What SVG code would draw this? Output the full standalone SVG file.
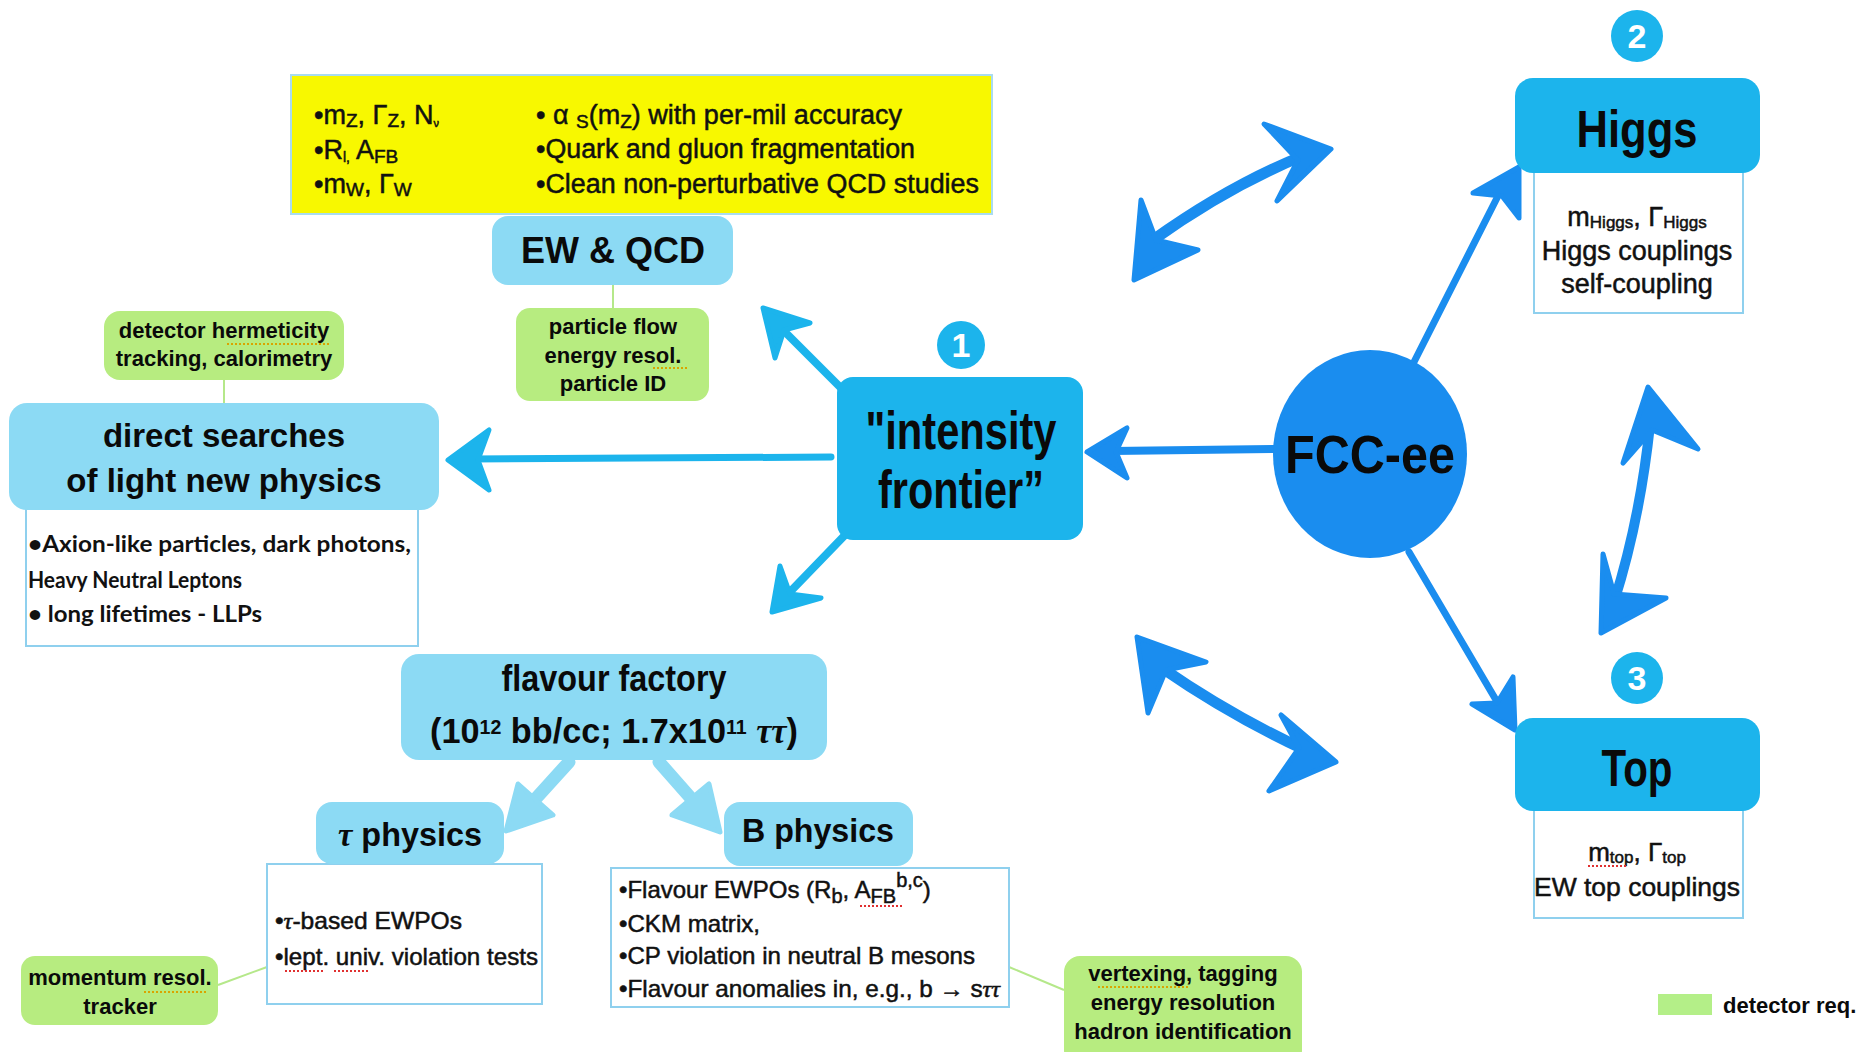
<svg xmlns="http://www.w3.org/2000/svg" width="1860" height="1052" viewBox="0 0 1860 1052">
<defs>
<style>
.lb{fill:#8cdaf4}
.cy{fill:#1cb4ec}
.db{fill:#1a8def}
.wb{fill:#fff;stroke:#8fd0ee;stroke-width:2}
.gr{fill:#b7ec80}
.h{font-family:'Liberation Sans',Arial,sans-serif;font-weight:700;fill:#0a0a0a;text-anchor:middle}
.g{font-family:'Liberation Sans',Arial,sans-serif;font-weight:700;fill:#0a0a0a;text-anchor:middle;font-size:22px}
.r{font-family:'Liberation Sans',Arial,sans-serif;fill:#111;stroke:#111;stroke-width:0.5}
.c{font-family:Lato,'Liberation Sans',sans-serif;font-weight:700;fill:#111;font-size:23px}
.num{font-family:'Liberation Sans',Arial,sans-serif;font-weight:700;fill:#fff;text-anchor:middle;font-size:34px}
.thin{stroke:#b5e88a;stroke-width:2;fill:none}
.sq{stroke:#d9a400;stroke-width:2;stroke-dasharray:2 2;fill:none}
.sqr{stroke:#e03030;stroke-width:2;stroke-dasharray:2 2;fill:none}
.shc{stroke:#1cb4ec;stroke-linecap:round;fill:none}
.shd{stroke:#1a8def;stroke-linecap:round;fill:none}
.shl{stroke:#8cdaf4;stroke-linecap:round;fill:none}
.hc{fill:#1cb4ec;stroke:#1cb4ec;stroke-width:5;stroke-linejoin:round}
.hd{fill:#1a8def;stroke:#1a8def;stroke-width:5;stroke-linejoin:round}
.hl{fill:#8cdaf4;stroke:#8cdaf4;stroke-width:5;stroke-linejoin:round}
</style>
</defs>
<rect width="1860" height="1052" fill="#fff"/>

<g id="connectors">
<line class="thin" x1="613" y1="285" x2="613" y2="308"/>
<line class="thin" x1="224" y1="380" x2="224" y2="403"/>
<line class="thin" x1="218" y1="985" x2="267" y2="967"/>
<line class="thin" x1="1009" y1="967" x2="1064" y2="990"/>

<path class="shc" stroke-width="7" d="M831,457 L470,459"/>
<polygon class="hc" points="448,460 489,430 478,460 489,490"/>
<path class="shc" stroke-width="8" d="M843,390 L778,325"/>
<polygon class="hc" points="763,308 810,323 784,330 775,358"/>
<path class="shc" stroke-width="8" d="M846,534 L788,594"/>
<polygon class="hc" points="772,612 780,566 790,594 821,598"/>

<path class="shd" stroke-width="8" d="M1276,449 L1112,451"/>
<polygon class="hd" points="1087,452 1127,428 1116,452 1127,478"/>
<path class="shd" stroke-width="7" d="M1414,362 L1500,192"/>
<polygon class="hd" points="1519,167 1519,218 1502,196 1473,193"/>
<path class="shd" stroke-width="7" d="M1409,552 L1496,700"/>
<polygon class="hd" points="1515,730 1472,704 1497,703 1513,677"/>

<path class="shd" stroke-width="11" d="M1153,240 Q1230,185 1305,155"/>
<polygon class="hd" points="1331,149 1264,124 1298,160 1277,201"/>
<polygon class="hd" points="1134,280 1141,200 1156,240 1198,250"/>

<path class="shd" stroke-width="11" d="M1162,668 Q1230,715 1305,750"/>
<polygon class="hd" points="1137,637 1206,662 1166,670 1148,713"/>
<polygon class="hd" points="1336,762 1281,715 1299,748 1269,791"/>

<path class="shd" stroke-width="10" d="M1650,425 Q1640,520 1614,602"/>
<polygon class="hd" points="1648,387 1698,449 1652,430 1623,463"/>
<polygon class="hd" points="1601,633 1603,554 1614,594 1666,598"/>

<path class="shl" stroke-width="13" d="M569,762 L530,805"/>
<polygon class="hl" points="506,831 518,784 536,800 553,815"/>
<path class="shl" stroke-width="13" d="M659,762 L696,804"/>
<polygon class="hl" points="720,832 672,815 691,799 709,784"/>
</g>

<g id="ewqcd-info">
<rect x="291" y="75" width="701" height="139" fill="#f8f800" stroke="#a9dcf0" stroke-width="2"/>
<text class="r" font-size="27" x="314" y="124">•m<tspan font-size="19" dy="3">Z</tspan><tspan dy="-3">, Γ</tspan><tspan font-size="19" dy="3">Z</tspan><tspan dy="-3">, N</tspan><tspan font-size="11" dy="3">ν</tspan></text>
<text class="r" font-size="27" x="314" y="159">•R<tspan font-size="14" dy="3">l,</tspan><tspan dy="-3"> A</tspan><tspan font-size="19" dy="4">FB</tspan></text>
<text class="r" font-size="27" x="314" y="193">•m<tspan font-size="19" dy="3">W</tspan><tspan dy="-3">, Γ</tspan><tspan font-size="19" dy="3">W</tspan></text>
<text class="r" font-size="27" x="536" y="124">• α <tspan font-size="19" dy="4">S</tspan><tspan dy="-4">(m</tspan><tspan font-size="19" dy="4">Z</tspan><tspan dy="-4">) with per-mil accuracy</tspan></text>
<text class="r" font-size="27" x="536" y="158" textLength="379" lengthAdjust="spacingAndGlyphs">•Quark and gluon fragmentation</text>
<text class="r" font-size="27" x="536" y="193" textLength="443" lengthAdjust="spacingAndGlyphs">•Clean non-perturbative QCD studies</text>
</g>

<g id="ewqcd">
<rect class="lb" x="492" y="216" width="241" height="69" rx="16"/>
<text class="h" font-size="36" x="613" y="263">EW &amp; QCD</text>
</g>

<g id="det-ewqcd">
<rect class="gr" x="516" y="308" width="193" height="93" rx="14"/>
<text class="g" x="613" y="334">particle flow</text>
<text class="g" x="613" y="363">energy resol.</text>
<text class="g" x="613" y="391">particle ID</text>
<line class="sq" x1="653" y1="368" x2="688" y2="368"/>
</g>

<g id="det-direct">
<rect class="gr" x="104" y="311" width="240" height="69" rx="16"/>
<text class="g" x="224" y="338">detector hermeticity</text>
<text class="g" x="224" y="366">tracking, calorimetry</text>
<line class="sq" x1="227" y1="344" x2="329" y2="344"/>
</g>

<g id="direct">
<rect class="wb" x="26" y="508" width="392" height="138"/>
<rect class="lb" x="9" y="403" width="430" height="107" rx="18"/>
<text class="h" font-size="33" x="224" y="447">direct searches</text>
<text class="h" font-size="33" x="224" y="492">of light new physics</text>
<text class="c" x="28" y="552" textLength="383" lengthAdjust="spacingAndGlyphs">•Axion-like particles, dark photons,</text>
<text class="c" x="28" y="588" textLength="214" lengthAdjust="spacingAndGlyphs">Heavy Neutral Leptons</text>
<text class="c" x="28" y="622" textLength="234" lengthAdjust="spacingAndGlyphs">• long lifetimes - LLPs</text>
</g>

<g id="intensity">
<rect class="cy" x="837" y="377" width="246" height="163" rx="16"/>
<text class="h" font-size="54" x="961" y="449" textLength="191" lengthAdjust="spacingAndGlyphs">"intensity</text>
<text class="h" font-size="54" x="961" y="508" textLength="166" lengthAdjust="spacingAndGlyphs">frontier”</text>
</g>
<g id="n1">
<circle class="cy" cx="961" cy="345" r="24"/>
<text class="num" x="961" y="357">1</text>
</g>

<g id="fcc">
<ellipse class="db" cx="1370" cy="454" rx="97" ry="104"/>
<text class="h" font-size="54" x="1370" y="473" textLength="170" lengthAdjust="spacingAndGlyphs">FCC-ee</text>
</g>

<g id="higgs">
<rect class="wb" x="1534" y="170" width="209" height="143"/>
<rect class="cy" x="1515" y="78" width="245" height="95" rx="18"/>
<text class="h" font-size="52" x="1637" y="147" textLength="121" lengthAdjust="spacingAndGlyphs">Higgs</text>
<text class="r" font-size="27" x="1637" y="226" text-anchor="middle">m<tspan font-size="17" dy="2">Higgs</tspan><tspan dy="-2">, Γ</tspan><tspan font-size="17" dy="2">Higgs</tspan></text>
<text class="r" font-size="27" x="1637" y="260" text-anchor="middle">Higgs couplings</text>
<text class="r" font-size="27" x="1637" y="293" text-anchor="middle">self-coupling</text>
</g>
<g id="n2">
<circle class="cy" cx="1637" cy="36" r="26"/>
<text class="num" x="1637" y="48">2</text>
</g>

<g id="top">
<rect class="wb" x="1534" y="808" width="209" height="110"/>
<rect class="cy" x="1515" y="718" width="245" height="93" rx="18"/>
<text class="h" font-size="52" x="1637" y="786" textLength="71" lengthAdjust="spacingAndGlyphs">Top</text>
<text class="r" font-size="26" x="1637" y="861" text-anchor="middle">m<tspan font-size="17" dy="2">top</tspan><tspan dy="-2">, Γ</tspan><tspan font-size="17" dy="2">top</tspan></text>
<line class="sqr" x1="1588" y1="866" x2="1626" y2="866"/>
<text class="r" font-size="26" x="1637" y="896" text-anchor="middle" textLength="206" lengthAdjust="spacingAndGlyphs">EW top couplings</text>
</g>
<g id="n3">
<circle class="cy" cx="1637" cy="678" r="26"/>
<text class="num" x="1637" y="690">3</text>
</g>

<g id="flavour">
<rect class="lb" x="401" y="654" width="426" height="106" rx="18"/>
<text class="h" font-size="37" x="614" y="691" textLength="225" lengthAdjust="spacingAndGlyphs">flavour factory</text>
<text class="h" font-size="35" x="614" y="743" textLength="368" lengthAdjust="spacingAndGlyphs">(10<tspan font-size="20" dy="-9">12</tspan><tspan dy="9"> bb/cc; 1.7x10</tspan><tspan font-size="20" dy="-9">11</tspan><tspan dy="9"> </tspan><tspan font-family="'Liberation Serif',serif" font-style="italic">ττ</tspan>)</text>
</g>

<g id="tau">
<rect class="wb" x="267" y="864" width="275" height="140"/>
<rect class="lb" x="316" y="802" width="188" height="62" rx="16"/>
<text class="h" font-size="34" x="410" y="846" textLength="144" lengthAdjust="spacingAndGlyphs"><tspan font-family="'Liberation Serif',serif" font-style="italic">τ</tspan> physics</text>
<text class="r" font-size="24" x="275" y="929" textLength="187" lengthAdjust="spacingAndGlyphs">•<tspan font-family="'Liberation Serif',serif" font-style="italic">τ</tspan>-based EWPOs</text>
<text class="r" font-size="24" x="275" y="965" textLength="263" lengthAdjust="spacingAndGlyphs">•lept. univ. violation tests</text>
<line class="sqr" x1="285" y1="971" x2="324" y2="971"/>
<line class="sqr" x1="334" y1="971" x2="368" y2="971"/>
</g>

<g id="bphys">
<rect class="wb" x="611" y="868" width="398" height="139"/>
<rect class="lb" x="724" y="802" width="189" height="64" rx="16"/>
<text class="h" font-size="34" x="818" y="842" textLength="152" lengthAdjust="spacingAndGlyphs">B physics</text>
<text class="r" font-size="24" x="619" y="898">•Flavour EWPOs (R<tspan font-size="20" dy="5">b</tspan><tspan dy="-5">, A</tspan><tspan font-size="20" dy="5">FB</tspan><tspan font-size="20" dy="-16">b,c</tspan><tspan dy="11">)</tspan></text>
<line class="sqr" x1="860" y1="906" x2="904" y2="906"/>
<text class="r" font-size="24" x="619" y="932" textLength="141" lengthAdjust="spacingAndGlyphs">•CKM matrix,</text>
<text class="r" font-size="24" x="619" y="964" textLength="356" lengthAdjust="spacingAndGlyphs">•CP violation in neutral B mesons</text>
<text class="r" font-size="24" x="619" y="997" textLength="381" lengthAdjust="spacingAndGlyphs">•Flavour anomalies in, e.g., b → s<tspan font-family="'Liberation Serif',serif" font-style="italic">ττ</tspan></text>
</g>

<g id="det-tau">
<rect class="gr" x="21" y="956" width="197" height="69" rx="14"/>
<text class="g" x="120" y="985">momentum resol.</text>
<text class="g" x="120" y="1014">tracker</text>
<line class="sq" x1="144" y1="992" x2="206" y2="992"/>
</g>

<g id="det-b">
<rect class="gr" x="1064" y="956" width="238" height="110" rx="16"/>
<text class="g" x="1183" y="981">vertexing, tagging</text>
<text class="g" x="1183" y="1010">energy resolution</text>
<text class="g" x="1183" y="1039">hadron identification</text>
<line class="sq" x1="1098" y1="987" x2="1190" y2="987"/>
</g>

<g id="legend">
<rect x="1658" y="994" width="54" height="21" fill="#b4ef88"/>
<text class="g" x="1723" y="1013" style="text-anchor:start">detector req.</text>
</g>
</svg>
